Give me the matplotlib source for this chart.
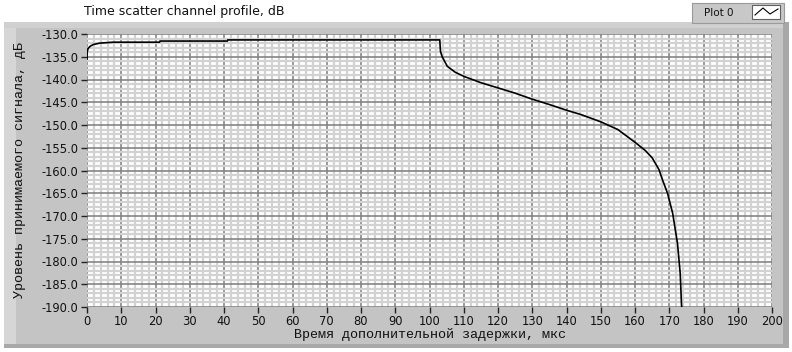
import numpy as np
import matplotlib.pyplot as plt
from matplotlib.patches import Rectangle
from matplotlib.ticker import MultipleLocator, FormatStrFormatter

# delay (us) and received level (dB) along the profile
delay = [0, 0.05, 0.3, 0.9, 1.9, 3.8, 7.7, 11.6, 21.2, 21.3, 41.0, 41.1,
         103.0, 103.2, 103.7, 105.2, 107.5, 110.0, 115.0, 119.8, 125.0,
         129.5, 135.0, 140.2, 144.2, 150.0, 155.0, 160.0, 163.0, 165.0,
         167.0, 168.0, 169.5, 171.0, 172.4, 173.2, 173.6, 173.7]
level = [-135.5, -134.0, -133.2, -132.7, -132.3, -132.0, -131.8, -131.8,
         -131.8, -131.55, -131.55, -131.3, -131.3, -133.8, -135.0, -137.1,
         -138.4, -139.3, -140.7, -141.8, -143.0, -144.2, -145.5, -146.8,
         -147.7, -149.3, -151.0, -153.8, -155.6, -157.2, -159.8, -162.0,
         -165.0, -169.4, -176.0, -182.6, -189.9, -190.0]

title = "Time scatter channel profile, dB"
xlabel = "Время дополнительной задержки, мкс"
ylabel = "Уровень принимаемого сигнала, дБ"
legend_name = "Plot 0"

W, H = 792, 352
fig = plt.figure(figsize=(W / 100, H / 100), dpi=100)
fig.patch.set_facecolor("white")


def px(x0, y0, w, h):
    # pixel box (top-left origin) -> figure fraction
    return [x0 / W, 1 - (y0 + h) / H, w / W, h / H]


# gray graph panel behind the plot area
bg = fig.add_axes([0, 0, 1, 1], zorder=-5)
bg.set_xlim(0, W)
bg.set_ylim(H, 0)
bg.axis("off")
bg.add_patch(Rectangle((4, 22), 785, 326, facecolor="#c4c4c4", edgecolor="none"))
bg.add_patch(Rectangle((4, 22), 12, 326, facecolor="#d6d6d6", edgecolor="none"))
bg.add_patch(Rectangle((4, 22), 785, 6, facecolor="#d0d0d0", edgecolor="none"))
bg.add_patch(Rectangle((783, 22), 6, 326, facecolor="#a8a8a8", edgecolor="none"))
bg.add_patch(Rectangle((4, 344), 785, 4, facecolor="#a8a8a8", edgecolor="none"))

# legend plate
bg.add_patch(Rectangle((692, 3), 92, 20, facecolor="#c8c8c8", edgecolor="#9a9a9a", lw=0.8))
bg.add_patch(Rectangle((752, 5), 28, 14, facecolor="white", edgecolor="#606060", lw=0.8))
bg.plot([755, 763, 770, 778], [15, 8, 14, 9], color="black", lw=0.8)
bg.text(719, 13, legend_name, fontsize=7.5, va="center", ha="center", color="#111111")
bg.text(84, 12, title, fontsize=9, va="center", ha="left", color="#111111")

ax = fig.add_axes(px(87, 34, 685, 273))
ax.set_facecolor("white")
ax.plot(delay, level, color="black", lw=1.2, zorder=3)

ax.set_xlim(0, 200)
ax.set_ylim(-190, -130)
ax.xaxis.set_major_locator(MultipleLocator(10))
ax.xaxis.set_minor_locator(MultipleLocator(2))
ax.yaxis.set_major_locator(MultipleLocator(5))
ax.yaxis.set_minor_locator(MultipleLocator(1))
ax.yaxis.set_major_formatter(FormatStrFormatter("%.1f"))

ax.grid(which="minor", color="#d2d2d2", lw=1.6, zorder=1)
ax.grid(which="major", color="#858585", lw=1.2, zorder=2)
ax.set_axisbelow(True)
for s in ax.spines.values():
    s.set_visible(False)

ax.tick_params(which="major", direction="out", length=4, width=1, color="#222222",
               labelsize=8.3, pad=2, labelcolor="#111111")
ax.tick_params(which="minor", length=0)

mono = ["Liberation Mono", "DejaVu Sans Mono"]
ax.set_xlabel(xlabel, family=mono, fontsize=9.6, labelpad=0, color="#111111")
ax.set_ylabel(ylabel, family=mono, fontsize=9.6, labelpad=11, color="#111111")

fig.savefig("out.png", dpi=100, facecolor=fig.get_facecolor())
